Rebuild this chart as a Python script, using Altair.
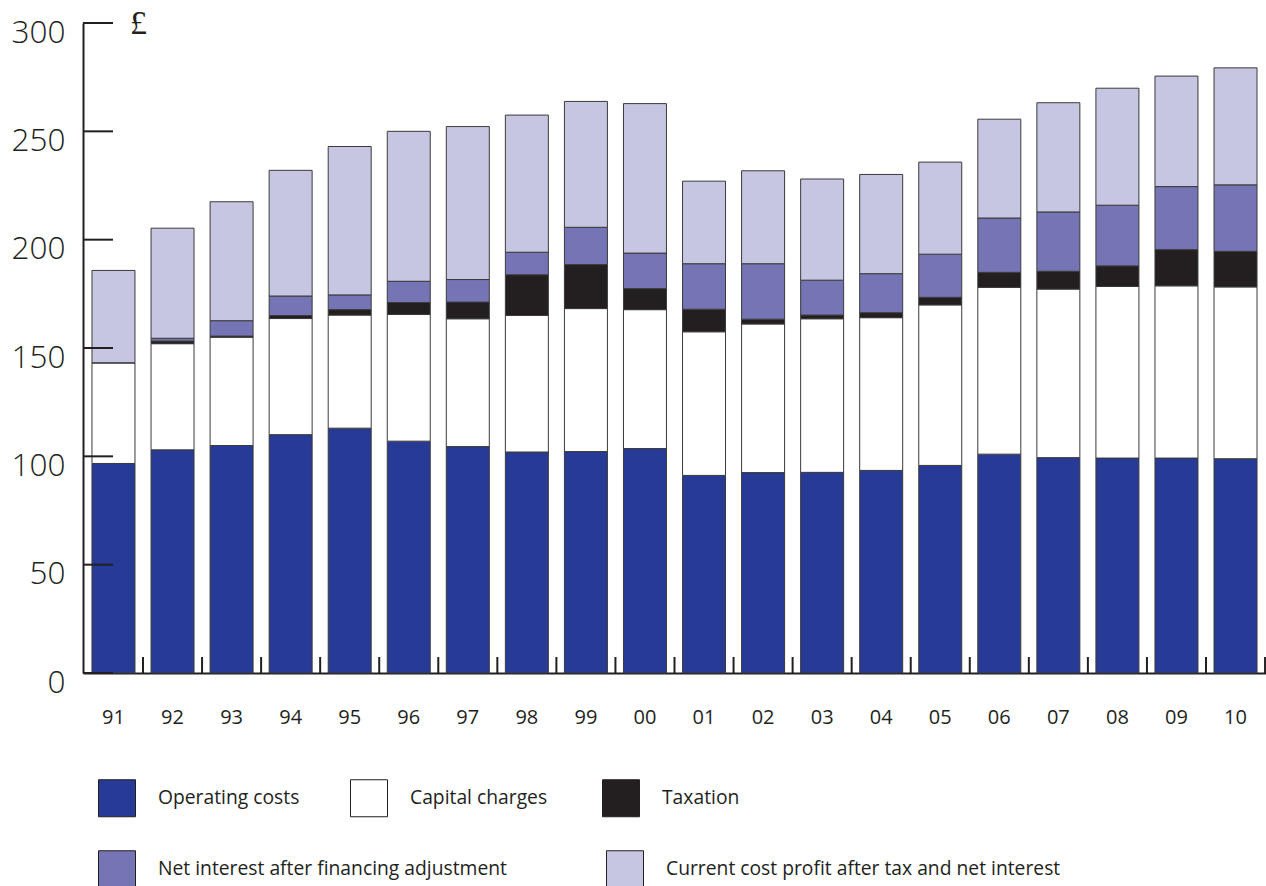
import altair as alt
import pandas as pd

# Financial years (two-digit labels)
years = ["91", "92", "93", "94", "95", "96", "97", "98", "99", "00",
         "01", "02", "03", "04", "05", "06", "07", "08", "09", "10"]

# Components of the average bill, £
operating = [96.7, 103.0, 105.0, 110.0, 113.0, 107.0, 104.5, 102.0, 102.2, 103.6,
             91.2, 92.5, 92.6, 93.5, 95.8, 101.0, 99.4, 99.2, 99.2, 98.9]
capital = [46.5, 49.0, 50.0, 53.6, 52.2, 58.5, 59.0, 63.0, 66.0, 64.1,
           66.3, 68.6, 70.9, 70.5, 74.1, 77.0, 77.8, 79.2, 79.5, 79.3]
taxation = [0.0, 1.2, 0.5, 1.4, 2.5, 5.5, 7.7, 18.8, 20.3, 9.7,
            10.4, 2.2, 1.7, 2.3, 3.5, 6.9, 8.2, 9.5, 16.7, 16.4]
net_interest = [0.0, 1.3, 7.1, 9.0, 6.8, 9.8, 10.4, 10.4, 17.2, 16.4,
                21.0, 25.6, 16.1, 18.0, 19.9, 25.1, 27.4, 28.0, 29.1, 30.7]
profit = [42.6, 50.8, 54.9, 58.0, 68.5, 69.2, 70.6, 63.3, 58.1, 69.0,
          38.1, 42.9, 46.7, 45.8, 42.5, 45.6, 50.4, 54.0, 51.0, 54.0]

series_names = [
    "Operating costs",
    "Capital charges",
    "Taxation",
    "Net interest after financing adjustment",
    "Current cost profit after tax and net interest",
]
series_colors = ["#263a96", "#ffffff", "#231f20", "#7574b4", "#c6c6e2"]
y_ticks = [0, 50, 100, 150, 200, 250, 300]

rows = []
for i, yr in enumerate(years):
    for k, vals in enumerate([operating, capital, taxation, net_interest, profit]):
        rows.append({"year": yr, "series": series_names[k], "order": k, "value": vals[i]})
df = pd.DataFrame(rows)

W, H = 1183, 650
P_IN, P_OUT = 0.272, 0.152
step = W / (len(years) - P_IN + 2 * P_OUT)
INK = "#231f20"
FONT = "Open Sans"

x_scale = alt.Scale(domain=years, paddingInner=P_IN, paddingOuter=P_OUT)
y_scale = alt.Scale(domain=[0, 300], nice=False)

x_axis = alt.Axis(title=None, ticks=False, grid=False, domainColor=INK, domainWidth=2,
                  labelFont=FONT, labelFontSize=20, labelColor=INK, labelPadding=34,
                  labelAngle=0)
y_axis = alt.Axis(title="£", values=y_ticks, ticks=False, grid=False,
                  domainColor=INK, domainWidth=2,
                  labelFont=FONT, labelFontSize=31.5, labelFontWeight=300, labelColor=INK,
                  labelPadding=18, labelOffset=10,
                  titleAngle=0, titleX=55, titleY=0, titleAlign="center",
                  titleBaseline="middle", titleFont="Liberation Serif", titleFontSize=34,
                  titleFontWeight="normal", titleColor=INK)

base = alt.Chart(df).transform_stack(
    stack="value", as_=["y0", "y1"], groupby=["year"],
    sort=[alt.SortField("order", order="ascending")],
)


def legend(ly, cols, pad, align):
    return alt.Legend(title=None, orient="none", legendX=15, legendY=ly,
                      direction="horizontal", columns=cols, gridAlign=align,
                      columnPadding=pad, padding=0,
                      symbolType="square", symbolSize=1369, symbolStrokeColor=INK,
                      symbolStrokeWidth=1, symbolOpacity=1,
                      labelFont=FONT, labelFontSize=19.3, labelColor=INK, labelOffset=22,
                      labelLimit=600)


def stack_layer(lo, hi, lg):
    return base.transform_filter(
        (alt.datum.order >= lo) & (alt.datum.order < hi)
    ).mark_bar(stroke="#3a3a3a", strokeWidth=1).encode(
        x=alt.X("year:N", sort=years, scale=x_scale, axis=x_axis),
        y=alt.Y("y0:Q", scale=y_scale, axis=y_axis),
        y2="y1:Q",
        fill=alt.Fill("series:N",
                      scale=alt.Scale(domain=series_names[lo:hi], range=series_colors[lo:hi]),
                      legend=lg),
    )


lower = stack_layer(0, 3, legend(756, 3, 48, "all"))
upper = stack_layer(3, 5, legend(827, 2, 97, "each"))

# inward ticks on the value axis
yticks = alt.Chart(pd.DataFrame({"y0": y_ticks})).mark_rule(color=INK, strokeWidth=2).encode(
    y=alt.Y("y0:Q", scale=y_scale, axis=y_axis),
    x=alt.value(0),
    x2=alt.value(30),
)

# short upward ticks between the year bands
xticks = alt.Chart(pd.DataFrame({"year": years})).mark_rule(
    color=INK, strokeWidth=2, xOffset=step / 2
).encode(
    x=alt.X("year:N", sort=years, scale=x_scale, axis=x_axis),
    y=alt.value(H),
    y2=alt.value(H - 16),
)

chart = alt.layer(lower, upper, yticks, xticks).resolve_scale(
    fill="independent"
).properties(
    width=W, height=H,
    padding={"left": 83, "top": 23, "right": 0, "bottom": 213},
    autosize=alt.AutoSizeParams(type="none"),
    background="white",
).configure_view(stroke=None)

chart.save("out.html", embed_options={"renderer": "svg", "actions": False})
